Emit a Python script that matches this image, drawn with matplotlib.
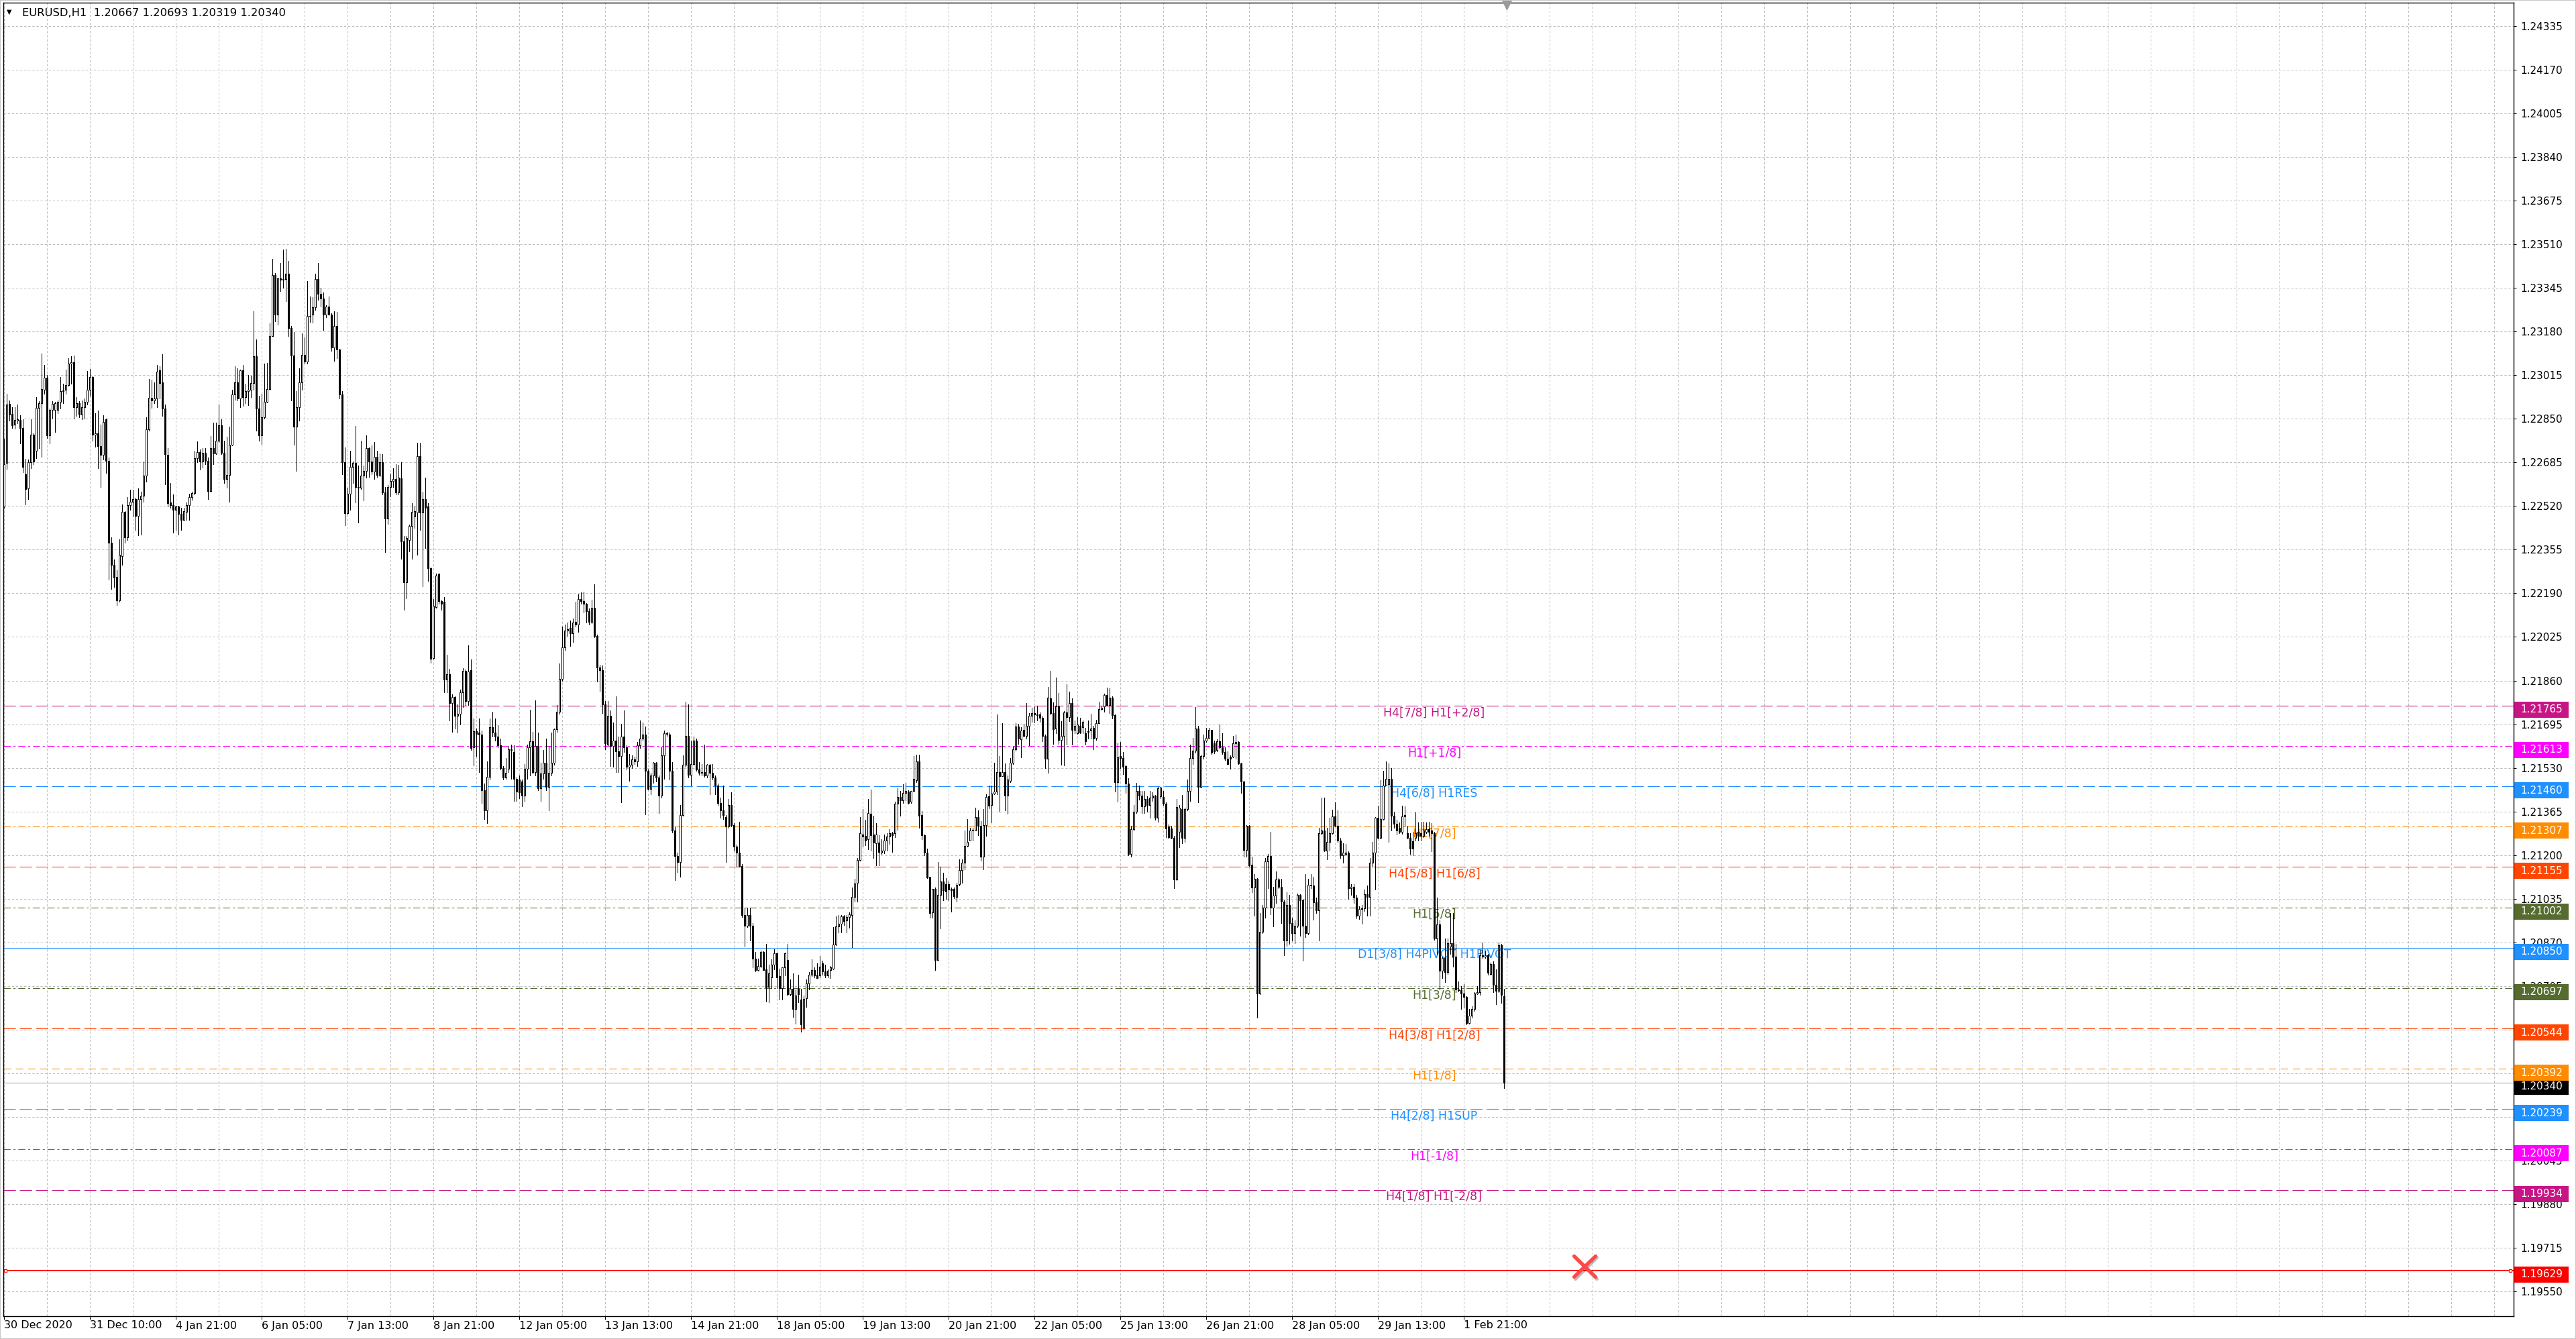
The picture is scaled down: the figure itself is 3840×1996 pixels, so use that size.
import numpy as np
import matplotlib
matplotlib.use("Agg")
import matplotlib.pyplot as plt
from matplotlib.collections import LineCollection, PolyCollection
from matplotlib.patches import Rectangle
from matplotlib.markers import MarkerStyle
import matplotlib.transforms as mtransforms
import matplotlib.patheffects as pe

plt.rcParams['font.family'] = ['DejaVu Sans']
plt.rcParams['lines.scale_dashes'] = False

# ---------------- data ----------------
symbol = "EURUSD,H1"
price_base = 1.2          # prices below are in points (1e-5) above 1.20000
point = 1e-5

opens = [
2519,2683,2906,2869,2829,2843,2847,2815,2641,2586,
2685,2789,2730,2892,2909,2960,3005,2788,2885,2884,
2884,2914,2954,2960,2979,3059,3064,2895,2909,2865,
2895,2914,2961,3009,2791,2796,2747,2713,2848,2691,
2382,2298,2251,2164,2331,2497,2403,2523,2535,2547,
2484,2547,2559,2634,2810,2929,2920,2926,3033,2988,
2888,2713,2533,2523,2506,2518,2491,2469,2497,2523,
2553,2568,2700,2723,2688,2721,2691,2578,2738,2719,
2766,2826,2721,2622,2639,2751,2942,2989,2928,3033,
2932,2956,2960,2986,3087,2890,2787,2857,2914,2963,
3163,3393,3245,3381,3377,3379,3399,3193,3090,2820,
2895,2989,3092,3067,3238,3243,3273,3379,3324,3305,
3243,3274,3245,3120,3202,3111,2942,2685,2493,2566,
2669,2683,2591,2589,2636,2653,2738,2688,2650,2707,
2638,2685,2571,2474,2593,2615,2623,2571,2624,2386,
2232,2392,2444,2481,2496,2710,2496,2547,2518,2284,
1946,2139,2261,2160,2157,1864,1884,1774,1798,1728,
1735,1815,1897,1783,1899,1607,1668,1664,1656,1444,
1369,1497,1683,1664,1649,1616,1530,1493,1527,1601,
1589,1488,1485,1478,1426,1527,1607,1631,1515,1612,
1453,1508,1548,1459,1512,1548,1676,1741,1866,1986,
2050,2058,2038,2083,2073,2169,2162,2150,2122,2083,
2136,2028,1909,1899,1771,1619,1726,1612,1634,1592,
1575,1649,1607,1533,1542,1563,1555,1615,1641,1656,
1518,1451,1500,1548,1493,1426,1578,1661,1656,1518,
1292,1196,1173,1352,1542,1652,1503,1545,1634,1523,
1512,1515,1500,1542,1512,1493,1463,1396,1369,1344,
1307,1389,1314,1233,1210,1158,973,932,973,932,
809,765,781,834,769,701,738,785,828,743,
696,776,804,673,693,618,693,654,546,658,
715,748,765,748,746,790,759,746,765,771,
861,931,941,969,953,966,973,1041,1094,1182,
1279,1272,1260,1357,1279,1246,1248,1208,1216,1254,
1270,1282,1282,1395,1420,1408,1434,1439,1401,1442,
1483,1554,1351,1276,1210,1119,983,1072,804,1050,
1100,1091,1091,1072,1072,1041,1091,1143,1171,1235,
1255,1293,1293,1345,1310,1194,1314,1423,1389,1432,
1440,1514,1498,1514,1425,1481,1549,1599,1686,1639,
1673,1652,1690,1727,1737,1733,1733,1718,1652,1564,
1793,1737,1679,1763,1636,1652,1740,1721,1774,1674,
1660,1690,1683,1660,1669,1671,1680,1643,1699,1752,
1763,1805,1768,1796,1730,1476,1575,1568,1536,1470,
1205,1297,1365,1443,1426,1385,1411,1389,1417,1425,
1341,1423,1420,1394,1307,1300,1265,1108,1287,1375,
1265,1375,1443,1566,1595,1679,1459,1574,1634,1644,
1673,1624,1598,1630,1608,1591,1564,1572,1572,1624,
1627,1547,1479,1219,1312,1164,1077,1110,676,909,
1001,1176,1197,1001,1048,1108,1081,1025,877,1011,
943,906,933,1050,1030,933,906,1087,1084,1021,
990,1283,1294,1217,1249,1283,1346,1312,1255,1200,
1203,1210,1074,1081,1040,972,996,999,1052,1042,
1171,1210,1341,1265,1336,1462,1468,1488,1349,1319,
1302,1287,1346,1283,1265,1253,1265,1287,1284,1273,
1287,1297,1294,1284,885,938,763,812,757,855,
867,817,692,690,676,663,564,593,617,676,
681,822,817,822,751,788,710,686,860,667]

highs = [
2775,2946,2920,2895,2893,2903,2864,2848,2699,2697,
2848,2796,2932,2918,3097,3055,3017,2890,2916,2914,
2920,3009,2984,3036,3080,3087,3089,2932,2918,2920,
2928,3031,3038,3010,2871,2881,2829,2864,2851,2704,
2401,2317,2277,2394,2525,2500,2553,2582,2582,2552,
2587,2575,2688,2857,3001,2998,2989,3055,3050,3094,
2903,2740,2608,2563,2522,2522,2514,2514,2533,2566,
2575,2730,2765,2735,2740,2740,2704,2784,2836,2836,
2904,2848,2768,2782,2820,2960,3050,3042,3036,3055,
2984,3017,3014,3258,3151,2937,2946,3059,3061,3210,
3454,3402,3384,3440,3490,3492,3446,3200,3177,2956,
3040,3172,3158,3372,3313,3311,3400,3439,3346,3327,
3280,3313,3249,3257,3255,3114,2954,2741,2589,2730,
2688,2824,2674,2768,2674,2788,2741,2749,2763,2730,
2719,2716,2593,2600,2642,2663,2678,2675,2686,2407,
2407,2449,2532,2519,2760,2760,2574,2627,2532,2288,
2169,2266,2267,2163,2177,1957,1905,1809,1801,1771,
1827,1906,1902,1994,1939,1716,1679,1716,1671,1470,
1555,1716,1741,1716,1691,1641,1537,1567,1612,1619,
1616,1493,1500,1485,1545,1619,1750,1667,1786,1664,
1548,1597,1641,1612,1664,1679,1768,1924,2065,2073,
2080,2087,2095,2157,2187,2194,2196,2154,2132,2166,
2224,2035,1919,1917,1783,1783,1746,1701,1801,1649,
1696,1746,1616,1582,1578,1572,1627,1708,1701,1686,
1523,1512,1552,1552,1500,1607,1671,1667,1664,1552,
1307,1210,1389,1578,1780,1771,1634,1649,1641,1552,
1545,1619,1545,1545,1545,1500,1470,1418,1463,1352,
1411,1438,1322,1240,1325,1166,1002,1002,1002,943,
833,809,840,836,863,785,806,844,832,771,
776,832,865,729,753,691,748,693,668,729,
757,806,776,790,818,802,785,767,781,928,
969,973,973,973,973,983,1077,1110,1190,1345,
1373,1333,1411,1448,1349,1321,1274,1260,1279,1282,
1298,1288,1401,1453,1443,1467,1472,1445,1443,1575,
1580,1580,1366,1279,1225,1119,1072,1077,1175,1157,
1133,1114,1100,1077,1077,1096,1185,1185,1293,1335,
1304,1304,1379,1370,1329,1373,1429,1462,1462,1549,
1733,1575,1699,1547,1500,1566,1611,1699,1697,1683,
1697,1774,1737,1758,1763,1765,1740,1725,1655,1836,
1896,1777,1871,1812,1707,1744,1846,1817,1793,1709,
1721,1718,1709,1680,1709,1735,1690,1711,1780,1763,
1810,1834,1831,1801,1733,1622,1627,1589,1538,1490,
1312,1389,1472,1462,1443,1443,1423,1443,1438,1428,
1457,1459,1443,1399,1317,1310,1273,1411,1389,1428,
1380,1486,1617,1644,1760,1690,1579,1656,1681,1681,
1673,1632,1637,1695,1661,1608,1593,1576,1651,1656,
1630,1549,1481,1314,1314,1195,1127,1113,982,1011,
1190,1203,1288,1079,1139,1113,1110,1030,1059,1050,
964,952,1054,1052,1035,1129,1110,1127,1118,1040,
1302,1418,1418,1304,1341,1372,1399,1370,1265,1244,
1242,1215,1090,1090,1050,1006,1011,1069,1084,1190,
1249,1343,1387,1484,1520,1554,1547,1530,1365,1333,
1323,1387,1384,1312,1283,1287,1362,1323,1326,1326,
1323,1326,1321,1287,1040,952,817,885,885,982,
982,865,721,705,712,666,618,627,681,705,
841,870,836,826,792,797,768,870,865,693]

lows = [
2514,2660,2843,2815,2812,2834,2758,2647,2525,2547,
2664,2678,2702,2740,2707,2946,2777,2758,2852,2801,
2871,2890,2909,2946,2975,2984,2851,2862,2857,2848,
2852,2904,2937,2766,2744,2664,2591,2697,2646,2241,
2206,2213,2145,2157,2298,2382,2392,2505,2481,2429,
2409,2411,2535,2613,2805,2892,2909,2895,2928,2862,
2603,2519,2514,2420,2429,2411,2429,2467,2467,2469,
2544,2563,2685,2657,2666,2678,2547,2575,2678,2716,
2763,2716,2608,2589,2535,2749,2923,2920,2895,2899,
2909,2901,2932,2960,2805,2768,2754,2852,2911,2960,
3163,3219,3205,3332,3346,3296,3163,2920,2751,2653,
2843,2960,3059,3059,3217,3214,3261,3299,3275,3186,
3233,3243,3106,3069,3078,2928,2641,2448,2490,2505,
2608,2533,2458,2585,2542,2627,2629,2641,2622,2631,
2633,2563,2345,2452,2556,2593,2563,2563,2321,2128,
2172,2348,2321,2437,2336,2429,2217,2362,2236,1928,
1943,2136,2150,2127,1815,1815,1708,1667,1679,1664,
1694,1760,1768,1768,1597,1540,1575,1515,1396,1337,
1322,1485,1649,1634,1607,1523,1485,1488,1515,1488,
1404,1404,1414,1384,1404,1488,1500,1508,1500,1444,
1404,1488,1444,1369,1500,1542,1667,1735,1860,1976,
2028,1991,2006,2065,2043,2150,2117,2080,2073,2077,
2023,1857,1820,1738,1601,1616,1537,1533,1515,1515,
1399,1589,1523,1482,1530,1545,1537,1604,1634,1355,
1448,1429,1474,1478,1359,1418,1488,1652,1485,1285,
1106,1136,1117,1349,1533,1493,1463,1542,1518,1503,
1500,1497,1493,1429,1485,1429,1389,1340,1337,1173,
1304,1307,1218,1158,1155,965,853,928,876,775,
760,763,775,764,647,644,696,767,696,654,
654,746,668,668,588,562,644,532,541,626,
691,743,738,734,738,748,738,738,734,767,
859,908,908,936,908,925,851,1025,1025,1178,
1232,1238,1223,1218,1190,1160,1160,1204,1207,1218,
1241,1213,1267,1295,1349,1396,1406,1395,1398,1439,
1476,1302,1260,1199,1113,962,962,765,803,922,
1030,1035,1030,987,1037,1025,1086,1096,1147,1232,
1255,1255,1293,1274,1178,1147,1272,1376,1323,1429,
1429,1364,1498,1368,1357,1476,1545,1594,1620,1570,
1648,1641,1615,1705,1702,1709,1705,1631,1530,1511,
1733,1620,1660,1620,1542,1539,1617,1707,1617,1660,
1658,1660,1660,1617,1641,1641,1601,1636,1699,1749,
1742,1765,1737,1716,1439,1401,1528,1505,1434,1199,
1193,1292,1360,1409,1360,1358,1365,1341,1404,1333,
1326,1414,1389,1268,1263,1262,1074,1106,1229,1246,
1249,1370,1404,1545,1588,1399,1455,1564,1627,1642,
1583,1585,1593,1603,1583,1559,1543,1527,1569,1564,
1543,1436,1195,1193,1158,1059,972,584,675,904,
964,1074,977,931,1020,1074,943,821,857,865,
877,867,928,894,802,889,899,1074,955,982,
877,1278,1215,1184,1217,1281,1307,1249,1190,1171,
1200,1035,1050,1020,960,957,941,989,972,972,
1156,1069,1263,1263,1333,1462,1249,1292,1302,1278,
1283,1280,1307,1263,1203,1200,1254,1254,1254,1268,
1284,1273,1215,880,826,692,734,720,751,826,
778,681,683,618,624,560,563,585,611,674,
671,812,812,747,747,681,637,681,642,319]

closes = [
2678,2904,2867,2826,2845,2848,2815,2667,2585,2685,
2789,2688,2892,2909,2963,3005,2787,2884,2907,2909,
2914,2954,2958,2979,3059,3064,2895,2909,2865,2895,
2914,2961,3009,2791,2796,2747,2713,2838,2691,2382,
2298,2249,2164,2335,2497,2403,2523,2535,2547,2484,
2547,2559,2634,2810,2929,2920,2926,3029,2986,2888,
2716,2531,2523,2506,2518,2491,2469,2500,2523,2553,
2568,2700,2723,2688,2721,2691,2578,2738,2719,2766,
2826,2721,2622,2639,2751,2942,2989,2928,3033,2932,
2954,2960,2986,3087,2890,2787,2857,2914,2963,3163,
3393,3245,3381,3377,3379,3399,3193,3090,2820,2895,
2989,3092,3067,3238,3240,3273,3379,3324,3305,3243,
3274,3245,3120,3202,3111,2942,2685,2493,2566,2669,
2683,2591,2589,2636,2653,2738,2688,2650,2707,2638,
2685,2571,2474,2593,2615,2623,2571,2627,2386,2232,
2400,2444,2499,2501,2710,2496,2547,2514,2284,1943,
2142,2258,2160,2150,1864,1884,1774,1798,1728,1735,
1815,1897,1783,1894,1604,1668,1659,1656,1444,1369,
1497,1683,1664,1649,1616,1530,1493,1511,1601,1597,
1488,1441,1438,1426,1527,1607,1631,1515,1612,1453,
1508,1548,1459,1512,1548,1676,1741,1866,1986,2050,
2055,2038,2080,2073,2169,2162,2151,2122,2083,2136,
2028,1909,1899,1771,1624,1726,1612,1634,1592,1575,
1649,1607,1533,1542,1563,1555,1615,1641,1656,1518,
1451,1500,1548,1493,1426,1578,1661,1659,1518,1292,
1196,1173,1352,1542,1652,1503,1545,1634,1523,1512,
1515,1500,1542,1512,1493,1463,1396,1369,1352,1307,
1389,1314,1233,1210,1158,973,932,973,932,809,
765,781,834,765,700,753,785,828,738,696,
776,828,673,693,618,668,673,560,656,715,
748,765,745,734,778,759,745,762,776,862,
931,941,969,950,966,975,1041,1093,1182,1282,
1270,1255,1359,1276,1248,1279,1213,1216,1254,1270,
1282,1276,1395,1420,1408,1434,1443,1396,1442,1489,
1554,1349,1274,1210,1116,981,1072,804,1050,1100,
1066,1063,1069,1067,1044,1088,1143,1171,1235,1251,
1293,1295,1345,1310,1194,1314,1420,1387,1432,1440,
1514,1498,1514,1425,1486,1549,1599,1686,1641,1671,
1652,1688,1727,1737,1733,1730,1718,1652,1564,1796,
1737,1677,1763,1636,1652,1740,1721,1774,1674,1690,
1693,1664,1705,1631,1667,1678,1641,1699,1752,1758,
1805,1768,1796,1730,1476,1570,1568,1533,1470,1204,
1297,1365,1443,1426,1385,1411,1389,1417,1425,1341,
1452,1455,1394,1300,1268,1265,1108,1382,1380,1265,
1375,1443,1566,1595,1679,1459,1574,1634,1644,1673,
1588,1593,1630,1608,1591,1564,1545,1564,1624,1627,
1547,1479,1219,1312,1161,1077,1110,676,909,1001,
1176,1197,1001,1048,1108,1081,1025,877,1011,943,
906,933,1050,1030,933,906,1087,1084,1021,990,
1283,1294,1217,1249,1283,1346,1312,1255,1200,1210,
1210,1074,1081,1040,972,996,999,1052,1042,1171,
1210,1341,1265,1336,1462,1488,1488,1349,1319,1294,
1287,1346,1351,1265,1224,1224,1283,1273,1273,1294,
1297,1287,1284,885,938,763,812,757,867,867,
817,692,690,676,663,564,593,617,676,681,
822,817,822,754,788,710,686,860,671,340]

time_labels = ['30 Dec 2020', '31 Dec 10:00', '4 Jan 21:00', '6 Jan 05:00',
               '7 Jan 13:00', '8 Jan 21:00', '12 Jan 05:00', '13 Jan 13:00',
               '14 Jan 21:00', '18 Jan 05:00', '19 Jan 13:00', '20 Jan 21:00',
               '22 Jan 05:00', '25 Jan 13:00', '26 Jan 21:00', '28 Jan 05:00',
               '29 Jan 13:00', '1 Feb 21:00']
bars_per_time_label = 32

price_tick_labels = ['1.24335', '1.24170', '1.24005', '1.23840', '1.23675', '1.23510',
                     '1.23345', '1.23180', '1.23015', '1.22850', '1.22685', '1.22520',
                     '1.22355', '1.22190', '1.22025', '1.21860', '1.21695', '1.21530',
                     '1.21365', '1.21200', '1.21035', '1.20870', '1.20705', '1.20540',
                     '1.20375', '1.20210', '1.20045', '1.19880', '1.19715', '1.19550']

level_prices = [1.21765, 1.21613, 1.21460, 1.21307, 1.21155, 1.21002, 1.20850,
                1.20697, 1.20544, 1.20392, 1.20239, 1.20087, 1.19934]
level_names = ['H4[7/8] H1[+2/8]', 'H1[+1/8]', 'H4[6/8] H1RES', 'H1[7/8]',
               'H4[5/8] H1[6/8]', 'H1[5/8]', 'D1[3/8] H4PIVOT H1PIVOT', 'H1[3/8]',
               'H4[3/8] H1[2/8]', 'H1[1/8]', 'H4[2/8] H1SUP', 'H1[-1/8]',
               'H4[1/8] H1[-2/8]']
level_colors = ['#C71585', '#FF00FF', '#1E90FF', '#FF8C00', '#FF4500', '#556B2F',
                '#1E90FF', '#556B2F', '#FF4500', '#FF8C00', '#1E90FF', '#FF00FF',
                '#C71585']
level_kinds = ['dash', 'dashdot', 'dash', 'dashdot', 'dash', 'dashdot', 'solid',
               'dashdot', 'dash', 'shortdash', 'dash', 'dashdot', 'dash']
label_bar = 533          # bar where the level captions are anchored

bid_price = 1.20340
alert_price = 1.19629
cross_bar = 589
cross_price = 1.19645
shift_bar = 560

# ---------------- figure ----------------
W, H, DPI = 3840, 1996, 100
PX = 72.0 / DPI   # points per pixel

fig = plt.figure(figsize=(W / DPI, H / DPI), dpi=DPI)
fig.patch.set_facecolor('white')
ax = fig.add_axes([5 / W, 34 / H, 3742 / W, 1958 / H])
ax.set_facecolor('white')
ymin, ymax = 1.19456, 1.24424
ax.set_xlim(-0.25, 935.25)
ax.set_ylim(ymin, ymax)
px_price = (ymax - ymin) / 1958.0

# grid
grid_kw = dict(color='#BEBEBE', lw=1 * PX, ls=(0, (2.4, 2.0)), zorder=0.5)
tick_vals = [float(s) for s in price_tick_labels]
for p in tick_vals:
    ax.axhline(p, **grid_kw)
for gx in range(0, 936, 16):
    ax.axvline(gx, **grid_kw)

# level lines and captions
styles = {'dash': (0, (13.0, 4.3)), 'dashdot': (0, (7.5, 3.0, 2.2, 3.0)),
          'shortdash': (0, (8.0, 5.0)), 'solid': '-'}
for p, name, col, kind in zip(level_prices, level_names, level_colors, level_kinds):
    ax.axhline(p, color=col, lw=1.1 * PX, ls=styles[kind], zorder=1)
    ax.text(label_bar, p - 1.5 * px_price, name, color=col, fontsize=12.5,
            ha='center', va='top', zorder=1.5)

# bid line & alert line
ax.axhline(bid_price, color='#C0C0C0', lw=1.3 * PX, zorder=1)
ax.axhline(alert_price, color='#FF0000', lw=2 * PX, zorder=2)
bt = mtransforms.blended_transform_factory(ax.transAxes, ax.transData)
ax.plot([0.0007, 0.9987], [alert_price, alert_price], ls='none', marker='s',
        ms=5 * PX, mfc='white', mec='#FF0000', mew=1.2 * PX, transform=bt,
        zorder=2.5, clip_on=False)

# candles
n = min(len(opens), len(highs), len(lows), len(closes))
o = price_base + np.array(opens[:n]) * point
h = price_base + np.array(highs[:n]) * point
l = price_base + np.array(lows[:n]) * point
c = price_base + np.array(closes[:n]) * point
xs = np.arange(n)
hi = np.maximum.reduce([h, o, c])
lo = np.minimum.reduce([l, o, c])
wicks = [[(x, a), (x, b)] for x, a, b in zip(xs, lo, hi)]
ax.add_collection(LineCollection(wicks, colors='black', linewidths=1.0 * PX,
                                 antialiaseds=False, zorder=3))
bw = 0.30
bodies = [[(x - bw, oo), (x - bw, cc), (x + bw, cc), (x + bw, oo)]
          for x, oo, cc in zip(xs, o, c)]
fcs = ['white' if cc > oo else 'black' for oo, cc in zip(o, c)]
ax.add_collection(PolyCollection(bodies, facecolors=fcs, edgecolors='black',
                                 linewidths=1.0 * PX, antialiaseds=False, zorder=4))

# red cross object
ms = MarkerStyle('x', capstyle='round')
ax.plot([cross_bar], [cross_price], ls='none', marker=ms, ms=23, mew=3.8,
        color='#FF4848', zorder=6,
        path_effects=[pe.SimpleLineShadow(offset=(1.5, -2), shadow_color='#444444', alpha=0.35),
                      pe.Normal()])

# chart shift marker at top
tt = mtransforms.blended_transform_factory(ax.transData, ax.transAxes)
ax.plot([shift_bar], [1 - 3 / 1958], ls='none', marker='v', ms=10, color='#9A9A9A',
        transform=tt, clip_on=False, zorder=7)

# axes / ticks
for s in ax.spines.values():
    s.set_color('black')
    s.set_linewidth(1.4 * PX)
ax.yaxis.tick_right()
ax.set_yticks(tick_vals)
ax.set_yticklabels(price_tick_labels)
ax.tick_params(axis='y', which='major', direction='out', length=4 * PX, width=1 * PX,
               pad=6 * PX, labelsize=11, colors='black', left=False, labelleft=False,
               right=True, labelright=True)
xt = [i * bars_per_time_label for i in range(len(time_labels))]
ax.set_xticks(xt)
ax.set_xticklabels(time_labels)
ax.tick_params(axis='x', which='major', direction='out', length=5 * PX, width=1 * PX,
               pad=1.5 * PX, labelsize=11.5, colors='black', top=False)
for lbl in ax.get_xticklabels():
    lbl.set_ha('left')

# price boxes on the axis
trans = mtransforms.blended_transform_factory(fig.transFigure, ax.transData)
box_x0, box_w = 3748 / W, 81 / W
box_h = 24 * px_price
box_off = 6 * px_price


def price_box(p, col):
    yc = p - box_off
    fig.add_artist(Rectangle((box_x0, yc - box_h / 2), box_w, box_h, transform=trans,
                             facecolor=col, edgecolor='none', zorder=10))
    fig.text(3757 / W, yc, f"{p:.5f}", transform=trans, color='white', fontsize=11,
             ha='left', va='center', zorder=11)


price_box(bid_price, 'black')
for p, col in zip(level_prices, level_colors):
    price_box(p, col)
price_box(alert_price, '#FF0000')

# title
fig.text(10 / W, 1 - 18 / H, '\u25BC', fontsize=7, ha='left', va='center', color='black')
fig.text(33 / W, 1 - 19 / H,
         f"{symbol}  {o[-1]:.5f} {h[-1]:.5f} {l[-1]:.5f} {c[-1]:.5f}",
         fontsize=11.8, ha='left', va='center', color='black')

# window border
fig.add_artist(Rectangle((0, 0), 1, 1, transform=fig.transFigure, fill=False,
                         edgecolor='#C8C8C8', lw=2 * PX, zorder=20))

fig.savefig('out.png', dpi=DPI, facecolor='white')
